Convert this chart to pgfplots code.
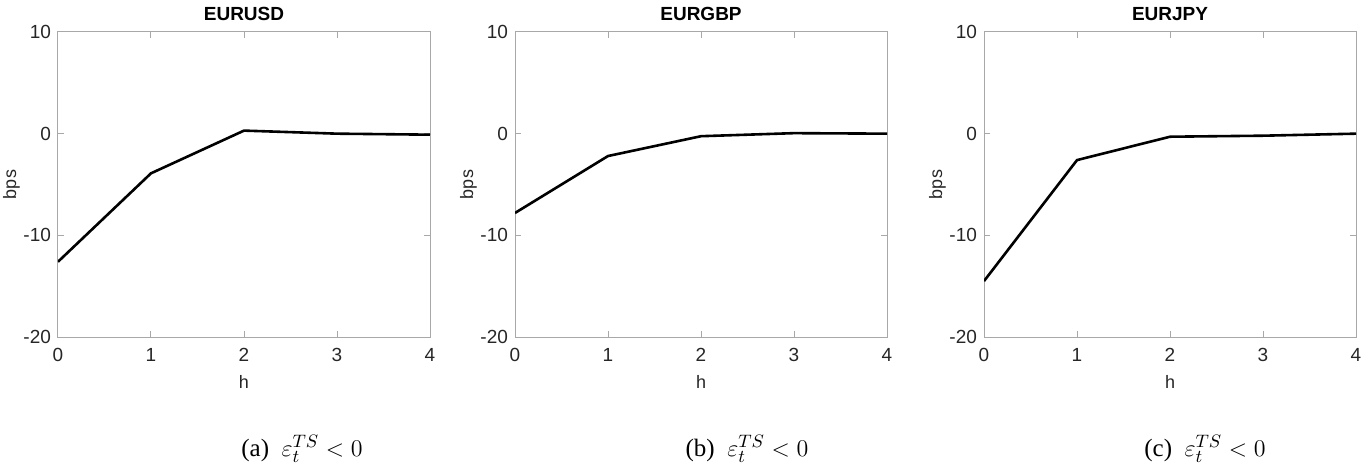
\documentclass[border=0pt]{standalone}
\usepackage{fontspec}
\setmainfont{Liberation Sans}
\newfontfamily\capfont{Liberation Serif}
\usepackage{pgfplots}
\pgfplotsset{compat=1.18}
\definecolor{axgray}{HTML}{A8A8A8}
\definecolor{txtgray}{HTML}{262626}
\pgfplotsset{
  panel/.style={
    scale only axis, width=186pt, height=152.5pt,
    xmin=0, xmax=4, ymin=-20, ymax=10,
    xtick={0,1,2,3,4}, ytick={-20,-10,0,10},
    tick align=inside, major tick length=3pt,
    axis line style={axgray, line width=0.5pt},
    every tick/.style={axgray, line width=0.5pt},
    tick label style={font=\fontsize{9.5}{10}\selectfont, text=txtgray},
    xticklabel style={yshift=-2pt},
    /pgf/number format/assume math mode=true,
    xlabel={h}, ylabel={bps},
    label style={font=\fontsize{9}{10}\selectfont, text=txtgray},
    xlabel style={yshift=0pt},
    ylabel style={yshift=-5pt},
    title style={font=\bfseries\fontsize{9.5}{10}\selectfont, yshift=-4pt},
    anchor=south west,
  },
  irf/.style={black, line width=1.3pt, no markers},
}
\begin{document}
\begin{tikzpicture}[x=1pt,y=1pt]
\useasboundingbox (0,0) rectangle (684.5,233);
\begin{axis}[panel, at={(29pt,64.5pt)}, title={EURUSD}]
\addplot[irf] coordinates {(0,-12.6) (1,-3.9) (2,0.3) (3,0.0) (4,-0.1)};
\end{axis}
\begin{axis}[panel, at={(257.5pt,64.5pt)}, title={EURGBP}]
\addplot[irf] coordinates {(0,-7.8) (1,-2.2) (2,-0.25) (3,0.05) (4,0.0)};
\end{axis}
\begin{axis}[panel, at={(492pt,64.5pt)}, title={EURJPY}]
\addplot[irf] coordinates {(0,-14.5) (1,-2.6) (2,-0.3) (3,-0.2) (4,0.0)};
\end{axis}
\node[font=\capfont\fontsize{12.5}{14}\selectfont] at (151,8.5) {(a)\enspace $\varepsilon_t^{TS} < 0$};
\node[font=\capfont\fontsize{12.5}{14}\selectfont] at (373.5,8.5) {(b)\enspace $\varepsilon_t^{TS} < 0$};
\node[font=\capfont\fontsize{12.5}{14}\selectfont] at (602.5,8.5) {(c)\enspace $\varepsilon_t^{TS} < 0$};
\end{tikzpicture}
\end{document}
